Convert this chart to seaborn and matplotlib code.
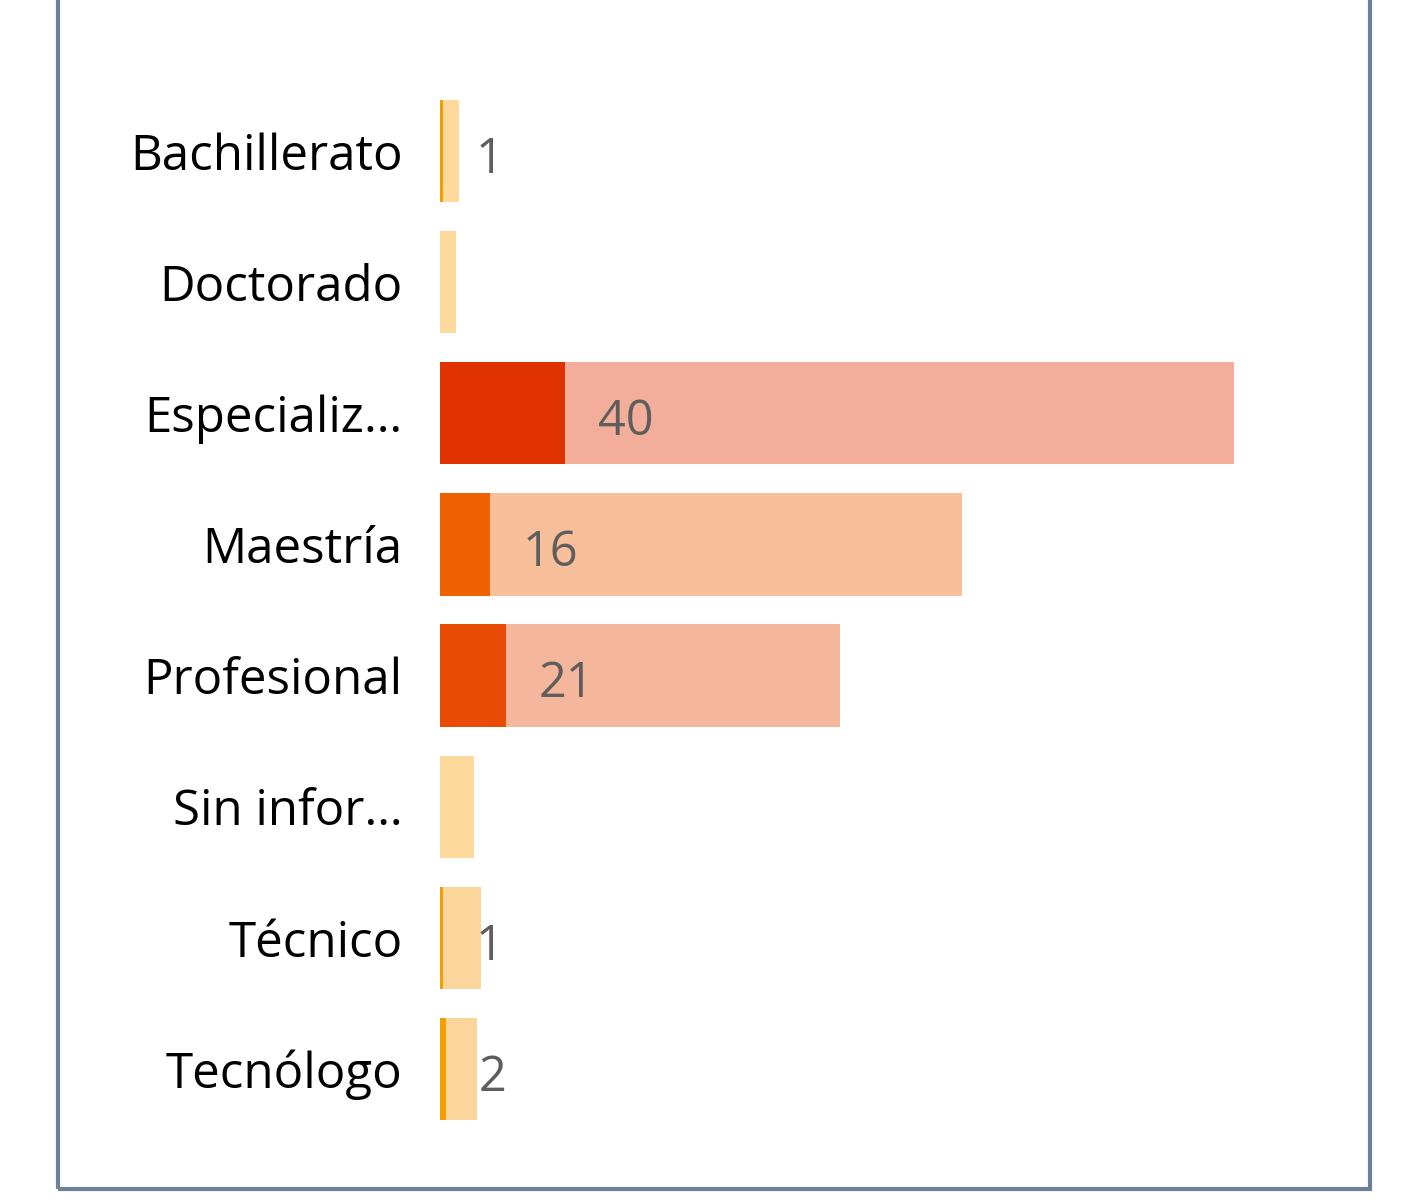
import matplotlib
matplotlib.use("Agg")
import matplotlib.pyplot as plt
import matplotlib.patches as patches
import seaborn as sns
import pandas as pd

categories = ["Bachillerato", "Doctorado", "Especializ…", "Maestría",
              "Profesional", "Sin infor…", "Técnico", "Tecnólogo"]
totals = [6, 5, 254, 167, 128, 11, 13, 12]
values = [1, 0, 40, 16, 21, 0, 1, 2]
dark_colors = ["#F59E00", "#F59E00", "#E03200", "#EE6100",
               "#E84B04", "#F59E00", "#F59E00", "#F59E00"]
light_colors = ["#FDDA9B", "#FDDA9B", "#F2AD9B", "#F8BF9B",
                "#F5B79C", "#FDDA9B", "#FBD59B", "#FBD59B"]

df = pd.DataFrame({"cat": categories, "total": totals, "value": values})

sns.set_theme(style="white")
plt.rcParams["font.family"] = ["Open Sans", "DejaVu Sans"]

W, H = 1410, 1201
fig = plt.figure(figsize=(W / 100, H / 100), dpi=100)
ax = fig.add_axes([440 / W, 1 - 1134.5 / H, 890.6 / W, 1049 / H])

sns.barplot(data=df, y="cat", x="total", hue="cat", palette=light_colors,
            legend=False, width=0.78, ax=ax, orient="h", saturation=1,
            linewidth=0)
sns.barplot(data=df, y="cat", x="value", hue="cat", palette=dark_colors,
            legend=False, width=0.78, ax=ax, orient="h", saturation=1,
            linewidth=0)

ax.set_xlim(0, 285)
ax.set_ylim(7.5, -0.5)
for s in ax.spines.values():
    s.set_visible(False)
ax.set_xticks([])
ax.set_xlabel("")
ax.set_ylabel("")
ax.tick_params(axis="y", length=0, pad=27, labelsize=35.5, labelcolor="#000000")

for i, v in enumerate(values):
    if v > 0:
        ax.annotate(str(v), xy=(v, i), xytext=(23.5, -6.5), textcoords="offset points",
                    ha="left", va="center", fontsize=35, color="#605E5C")

frame = patches.Rectangle((58 / W, 1 - 1189 / H), (1370 - 58) / W, 1.2,
                          transform=fig.transFigure, fill=False,
                          edgecolor="#6E7F99", linewidth=3.0, clip_on=False)
fig.patches.append(frame)

fig.savefig("out.png", dpi=100)
